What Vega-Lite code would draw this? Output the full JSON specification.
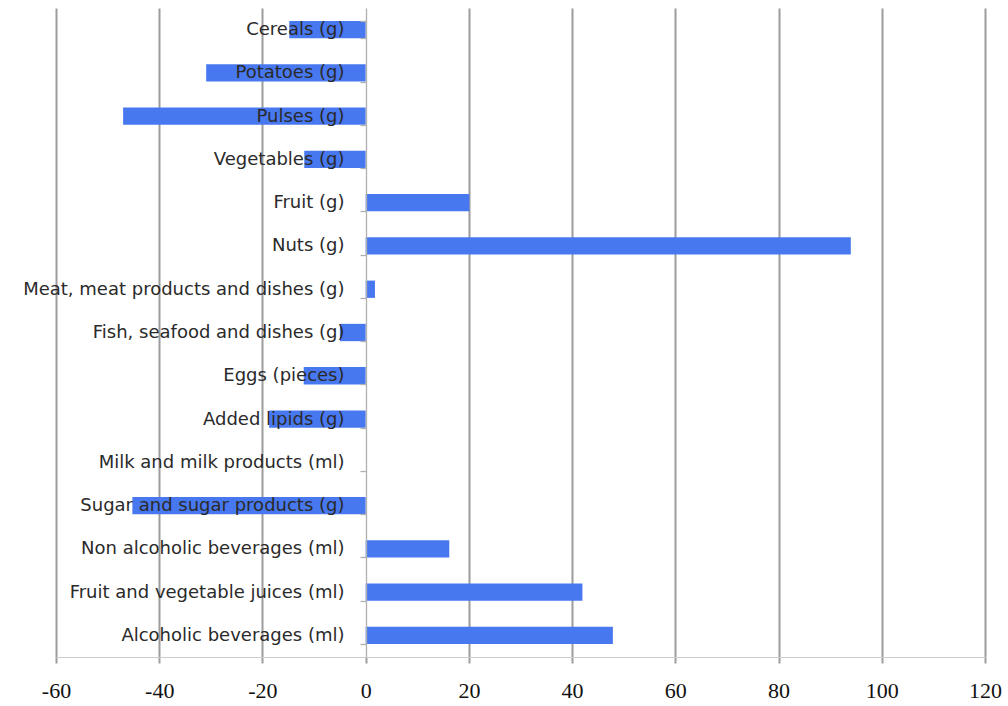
{
  "$schema": "https://vega.github.io/schema/vega-lite/v6.json",
  "autosize": "none",
  "width": 929,
  "height": 649,
  "padding": {"left": 56, "top": 8, "right": 23, "bottom": 49},
  "background": "white",
  "config": {"view": {"stroke": null}},
  "data": {
    "values": [
      {"food": "Cereals (g)", "change": -14.8},
      {"food": "Potatoes (g)", "change": -30.9},
      {"food": "Pulses (g)", "change": -47},
      {"food": "Vegetables (g)", "change": -11.9},
      {"food": "Fruit (g)", "change": 20.1},
      {"food": "Nuts (g)", "change": 94},
      {"food": "Meat, meat products and dishes (g)", "change": 1.8},
      {"food": "Fish, seafood and dishes (g)", "change": -5},
      {"food": "Eggs (pieces)", "change": -12},
      {"food": "Added lipids (g)", "change": -18.7},
      {"food": "Milk and milk products (ml)", "change": 0},
      {"food": "Sugar and sugar products (g)", "change": -45.2},
      {"food": "Non alcoholic beverages (ml)", "change": 16.2},
      {"food": "Fruit and vegetable juices (ml)", "change": 42},
      {"food": "Alcoholic beverages (ml)", "change": 47.9}
    ]
  },
  "mark": {"type": "bar", "color": "#4878F0"},
  "encoding": {
    "y": {
      "field": "food",
      "type": "nominal",
      "sort": null,
      "title": null,
      "scale": {"paddingInner": 0.6, "paddingOuter": 0.3},
      "axis": {
        "orient": "left",
        "offset": -310,
        "zindex": 1,
        "domainColor": "#b0b0b0",
        "domainWidth": 1.3,
        "tickColor": "#b0b0b0",
        "tickWidth": 1.3,
        "tickSize": 6,
        "tickBand": "extent",
        "labelFont": "DejaVu Sans",
        "labelFontSize": 18,
        "labelColor": "#2a2a2a",
        "labelPadding": 16,
        "labelLimit": 400
      }
    },
    "x": {
      "field": "change",
      "type": "quantitative",
      "title": null,
      "scale": {"domain": [-60, 120], "nice": false, "zero": false},
      "axis": {
        "values": [-60, -40, -20, 0, 20, 40, 60, 80, 100, 120],
        "labelExpr": "replace(datum.label, '\u2212', '-')",
        "grid": true,
        "gridColor": {"condition": {"test": "datum.value === 0", "value": "transparent"}, "value": "#9c9c9c"},
        "gridWidth": 2,
        "domainColor": "#cccccc",
        "domainWidth": 1.2,
        "tickColor": "#9c9c9c",
        "tickWidth": 2,
        "tickSize": 6,
        "labelFont": "Liberation Serif",
        "labelFontSize": 22,
        "labelColor": "#111111",
        "labelPadding": 17,
        "labelFlush": false,
        "labelOverlap": false
      }
    }
  }
}
